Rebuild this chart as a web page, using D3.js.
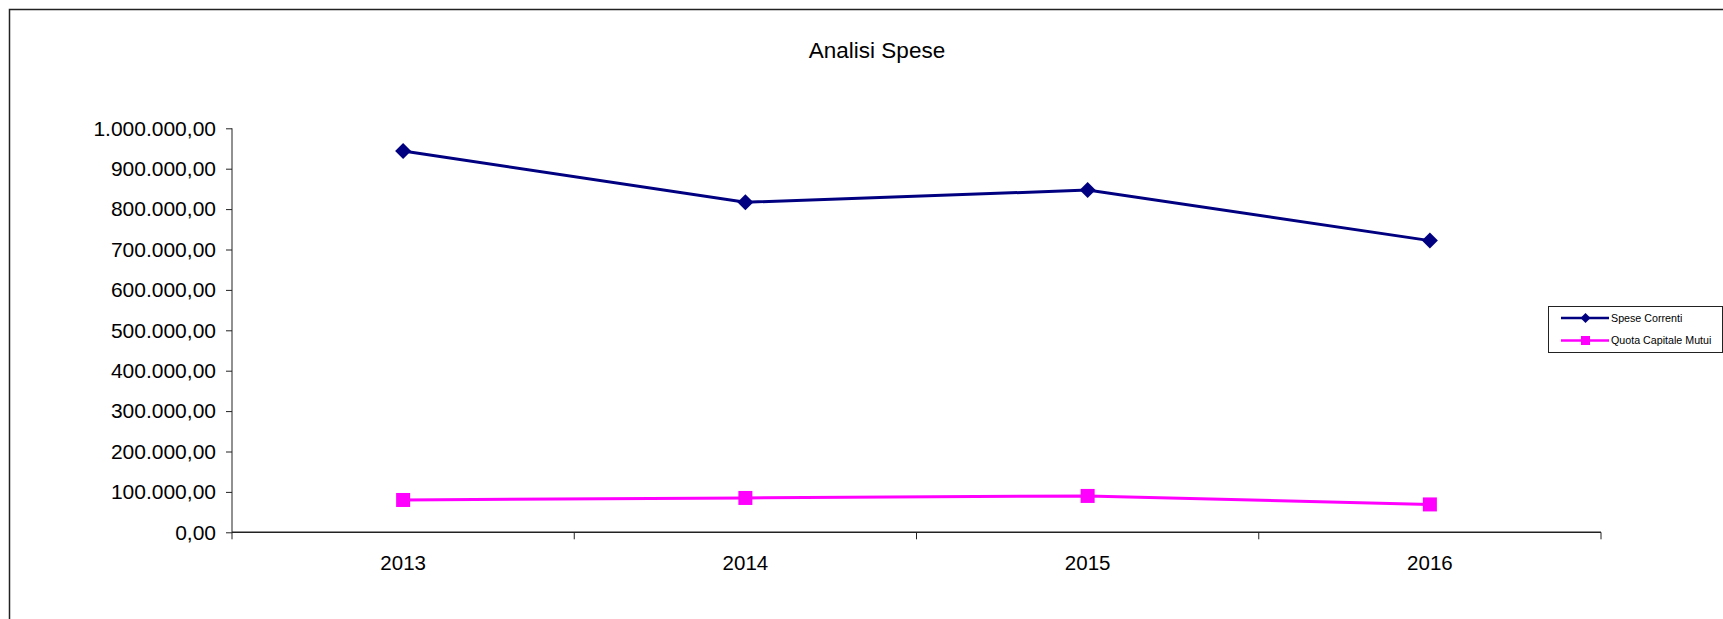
<!DOCTYPE html>
<html>
<head>
<meta charset="utf-8">
<script src="https://cdn.jsdelivr.net/npm/d3@7"></script>
<style>
  html, body { margin: 0; padding: 0; background: #fff; }
  svg { display: block; font-family: "Liberation Sans", Arial, sans-serif; }
</style>
</head>
<body>
<svg id="chart" width="1723" height="619"></svg>
<script>
const categories = ["2013", "2014", "2015", "2016"];
const speseCorrenti = [944000, 817000, 847000, 722000];
const quotaCapitaleMutui = [80000, 85000, 90000, 69000];
const yTicks = [0, 100000, 200000, 300000, 400000, 500000, 600000, 700000, 800000, 900000, 1000000];
const seriesNames = ["Spese Correnti", "Quota Capitale Mutui"];
const chartTitle = "Analisi Spese";

(function () {
const svg = d3.select("#chart");
const plotLeft = 232, plotRight = 1601, plotTop = 128.3, plotBottom = 532.3;

const locale = d3.formatLocale({ decimal: ",", thousands: ".", grouping: [3], currency: ["", "€"] });
const fmt = locale.format(",.2f");

const x = d3.scaleBand().domain(categories).range([plotLeft, plotRight]).padding(0);
const y = d3.scaleLinear().domain([0, 1000000]).range([plotBottom, plotTop]);

// outer frame
svg.append("rect").attr("x", 9.5).attr("y", 9.5).attr("width", 1800).attr("height", 700)
  .attr("fill", "none").attr("stroke", "#222").attr("stroke-width", 1.5);

// title
svg.append("text").attr("x", 877).attr("y", 58).attr("text-anchor", "middle")
  .attr("font-size", 22.5).attr("fill", "#000").text(chartTitle);

// y axis
const yAxis = svg.append("g").attr("transform", `translate(${plotLeft},0)`)
  .call(d3.axisLeft(y).tickValues(yTicks).tickFormat(fmt).tickSize(6).tickPadding(10));
yAxis.selectAll("path, line").attr("stroke", "#222").attr("stroke-width", 1);
yAxis.selectAll("text").attr("font-size", 21).attr("fill", "#000")
  .attr("font-family", "Liberation Sans, Arial, sans-serif");
yAxis.select(".domain").attr("d", `M0,${plotBottom}V${plotTop}`);

// x axis labels
const xAxis = svg.append("g").attr("transform", `translate(0,${plotBottom})`)
  .call(d3.axisBottom(x).tickSize(0).tickPadding(23));
xAxis.select(".domain").remove();
xAxis.selectAll("text").attr("font-size", 20.5).attr("fill", "#000")
  .attr("font-family", "Liberation Sans, Arial, sans-serif");
// x axis line and boundary ticks
svg.append("line").attr("x1", plotLeft).attr("x2", plotRight).attr("y1", plotBottom).attr("y2", plotBottom)
  .attr("stroke", "#222").attr("stroke-width", 1.5);
const bounds = categories.map(c => x(c)).concat([x.range()[1]]);
svg.selectAll(".xtick").data(bounds).enter().append("line")
  .attr("x1", d => d).attr("x2", d => d).attr("y1", plotBottom).attr("y2", plotBottom + 7)
  .attr("stroke", "#222").attr("stroke-width", 1);

const cx = c => x(c) + x.bandwidth() / 2;
const line = d3.line().x((d, i) => cx(categories[i])).y(d => y(d));

// series 1
svg.append("path").datum(speseCorrenti).attr("d", line)
  .attr("fill", "none").attr("stroke", "#000080").attr("stroke-width", 3);
svg.selectAll(".m1").data(speseCorrenti).enter().append("path")
  .attr("transform", (d, i) => `translate(${cx(categories[i])},${y(d)})`)
  .attr("d", "M0,-8L8,0L0,8L-8,0Z").attr("fill", "#000080");

// series 2
svg.append("path").datum(quotaCapitaleMutui).attr("d", line)
  .attr("fill", "none").attr("stroke", "#FF00FF").attr("stroke-width", 3);
svg.selectAll(".m2").data(quotaCapitaleMutui).enter().append("rect")
  .attr("x", (d, i) => cx(categories[i]) - 7).attr("y", d => y(d) - 7)
  .attr("width", 14).attr("height", 14).attr("fill", "#FF00FF");

// legend
const lg = svg.append("g");
lg.append("rect").attr("x", 1548.5).attr("y", 306.5).attr("width", 174).attr("height", 46)
  .attr("fill", "#fff").attr("stroke", "#222").attr("stroke-width", 1);
const colors = ["#000080", "#FF00FF"];
seriesNames.forEach((name, i) => {
  const ly = 318 + i * 22.5;
  lg.append("line").attr("x1", 1561).attr("x2", 1609).attr("y1", ly).attr("y2", ly)
    .attr("stroke", colors[i]).attr("stroke-width", 2.5);
  if (i === 0) {
    lg.append("path").attr("transform", `translate(1585.5,${ly})`)
      .attr("d", "M0,-5L5,0L0,5L-5,0Z").attr("fill", colors[i]);
  } else {
    lg.append("rect").attr("x", 1581).attr("y", ly - 4.5).attr("width", 9).attr("height", 9)
      .attr("fill", colors[i]);
  }
  lg.append("text").attr("x", 1611).attr("y", ly + 3.8).attr("font-size", 10.7)
    .attr("fill", "#000").text(name);
});
})();
</script>
</body>
</html>
